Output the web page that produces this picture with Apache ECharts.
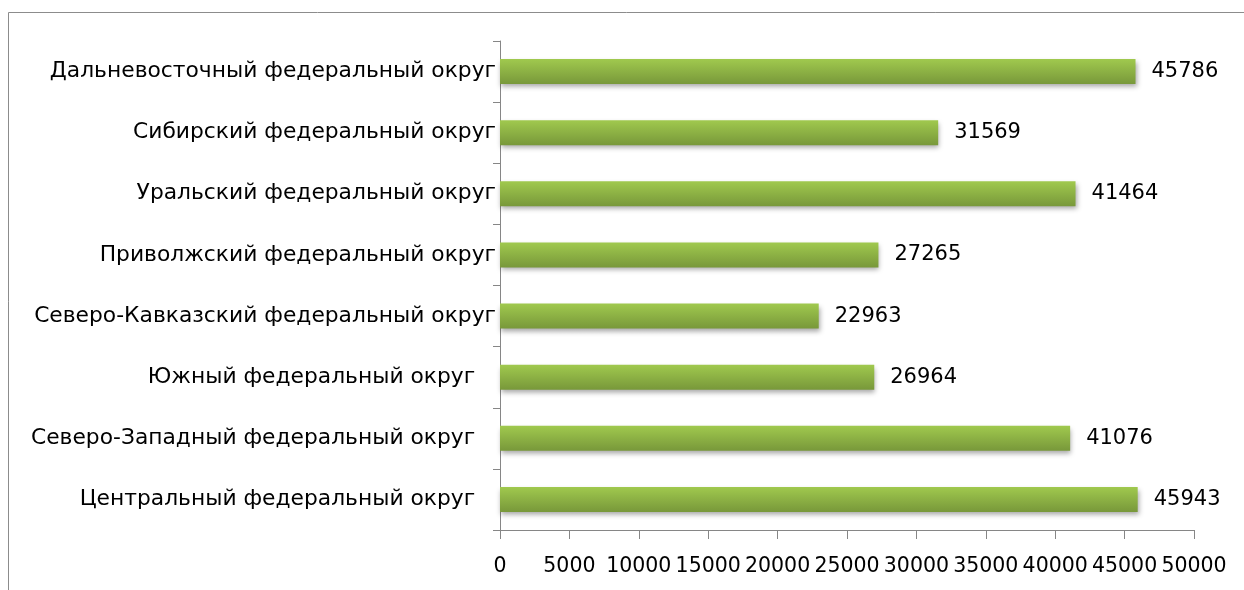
<!DOCTYPE html>
<html>
<head>
<meta charset="utf-8">
<script src="https://cdn.jsdelivr.net/npm/echarts@6/dist/echarts.min.js"></script>
<style>
  html, body { margin: 0; padding: 0; background: #fff; }
  #chart { width: 1244px; height: 590px; }
</style>
</head>
<body>
<div id="chart"></div>
<script>
// округа снизу вверх (как в категориальной оси)
const districts = [
    'Центральный федеральный округ   ',
    'Северо-Западный федеральный округ   ',
    'Южный федеральный округ   ',
    'Северо-Кавказский федеральный округ',
    'Приволжский федеральный округ',
    'Уральский федеральный округ',
    'Сибирский федеральный округ',
    'Дальневосточный федеральный округ'
];
const values = [45943, 41076, 26964, 22963, 27265, 41464, 31569, 45786];
const axisMin = 0;
const axisMax = 50000;
const axisStep = 5000;

const font = 'DejaVu Sans';
const axisGray = '#868686';

const myChart = echarts.init(document.getElementById('chart'));
const option = {
    backgroundColor: '#fff',
    animation: false,
    graphic: [
        {
            type: 'polyline',
            shape: { points: [[8.5, 600], [8.5, 12.5], [1250, 12.5]] },
            style: { stroke: '#8c8c8c', lineWidth: 1, fill: null }
        }
    ],
    grid: { left: 500, right: 50, top: 41, bottom: 60 },
    xAxis: {
        type: 'value',
        min: axisMin,
        max: axisMax,
        interval: axisStep,
        splitLine: { show: false },
        axisLine: { show: true, lineStyle: { color: axisGray, width: 1 } },
        axisTick: { show: true, length: 9, lineStyle: { color: axisGray } },
        axisLabel: { color: '#000', fontFamily: font, fontSize: 20.5, margin: 26, formatter: v => String(v) }
    },
    yAxis: {
        type: 'category',
        data: districts,
        axisLine: { show: true, lineStyle: { color: axisGray, width: 1 } },
        axisTick: { show: true, length: 7, lineStyle: { color: axisGray } },
        axisLabel: { color: '#000', fontFamily: font, fontSize: 21.8, margin: 4 }
    },
    series: [
        {
            type: 'bar',
            data: values,
            barWidth: 25,
            itemStyle: {
                color: new echarts.graphic.LinearGradient(0, 0, 0, 1, [
                    { offset: 0, color: '#a0c94e' },
                    { offset: 1, color: '#78983a' }
                ]),
                shadowColor: 'rgba(0,0,0,0.35)',
                shadowBlur: 5,
                shadowOffsetY: 3,
                shadowOffsetX: 1
            },
            label: {
                show: true,
                position: 'right',
                distance: 16,
                color: '#000',
                fontFamily: font,
                fontSize: 21
            }
        }
    ]
};
myChart.setOption(option);
</script>
</body>
</html>
